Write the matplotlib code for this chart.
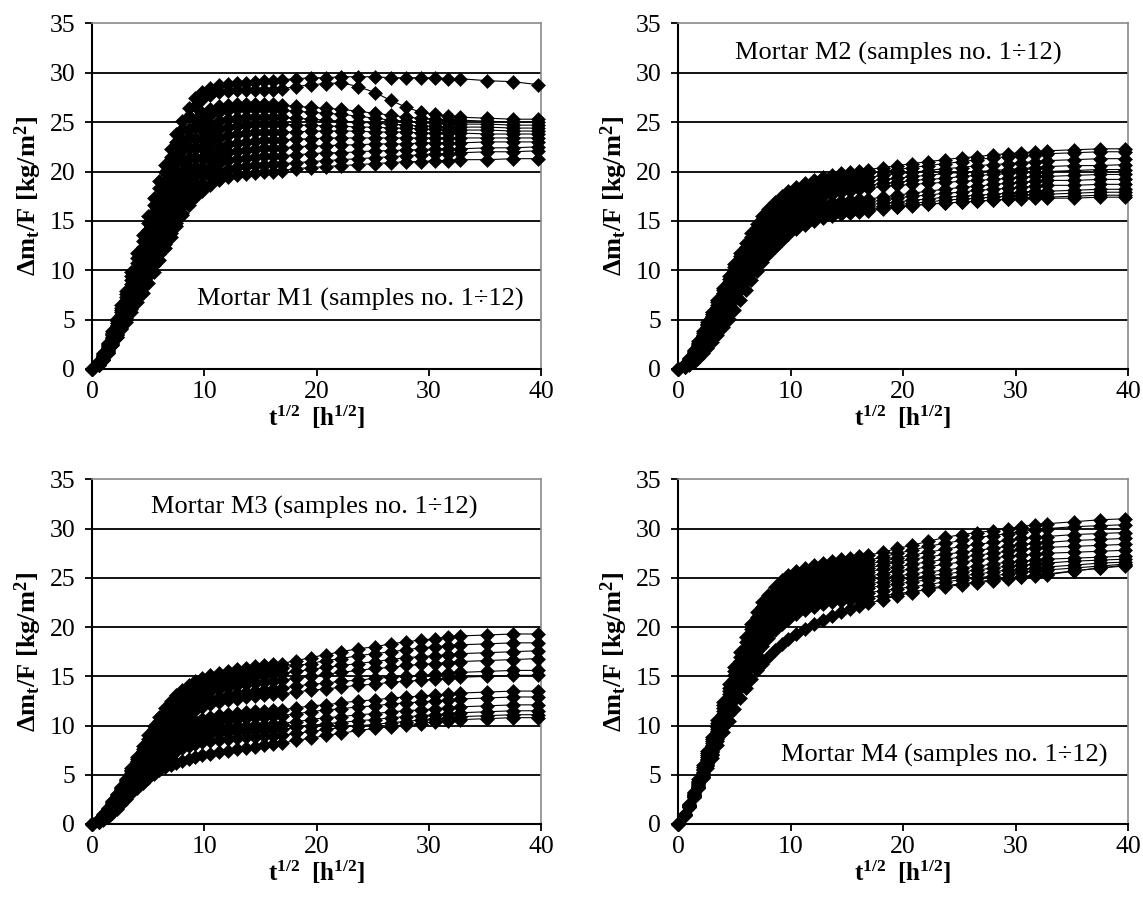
import numpy as np
import matplotlib
matplotlib.use("Agg")
import matplotlib.pyplot as plt

plt.rcParams['font.family'] = ['Liberation Serif', 'DejaVu Serif']
plt.rcParams['mathtext.fontset'] = 'custom'
plt.rcParams['mathtext.rm'] = 'Liberation Serif'
plt.rcParams['mathtext.bf'] = 'Liberation Serif:bold'
plt.rcParams['mathtext.it'] = 'Liberation Serif:italic'

# square root of time [h^1/2] at which samples were weighed
sqrt_t = [0, 0.6, 1.0, 1.4, 1.8, 2.2, 2.6, 3.0, 3.5, 4.0, 4.5, 5.0, 5.5, 6.0, 6.5, 7.0, 7.5, 8.0, 8.6, 9.2,
          9.8, 10.5, 11.3, 12.1, 12.9, 13.7, 14.5, 15.3, 16.1, 16.9, 18.2, 19.5, 20.8, 22.2, 23.7, 25.2, 26.6,
          28.0, 29.3, 30.5, 31.7, 32.8, 35.2, 37.5, 39.7]

# water absorption dm_t/F [kg/m2], mortar M1, samples 1..12
m1_series = [
    [0, 0.8, 1.6, 2.6, 3.8, 5.1, 6.5, 7.9, 9.8, 11.7, 13.6, 15.5, 17.3, 19.0, 20.7, 22.3, 23.8, 25.1, 26.4, 27.4, 28.1, 28.5, 28.8, 28.9, 29.0, 29.0, 29.1, 29.2, 29.2, 29.3, 29.4, 29.5, 29.5, 29.6, 29.6, 29.6, 29.5, 29.5, 29.5, 29.5, 29.4, 29.4, 29.2, 29.1, 28.8],
    [0, 0.7, 1.5, 2.5, 3.6, 4.9, 6.2, 7.6, 9.4, 11.2, 13.0, 14.8, 16.6, 18.3, 19.9, 21.5, 23.0, 24.3, 25.6, 26.6, 27.3, 27.8, 28.1, 28.2, 28.3, 28.3, 28.3, 28.3, 28.3, 28.4, 28.6, 28.8, 28.9, 29.0, 28.6, 28.0, 27.2, 26.5, 26.0, 25.8, 25.6, 25.5, 25.4, 25.3, 25.3],
    [0, 0.7, 1.4, 2.4, 3.5, 4.7, 6.0, 7.3, 9.0, 10.7, 12.4, 14.1, 15.8, 17.4, 19.0, 20.5, 21.9, 23.1, 24.3, 25.2, 25.9, 26.3, 26.6, 26.7, 26.8, 26.8, 26.8, 26.8, 26.8, 26.7, 26.6, 26.5, 26.4, 26.3, 26.1, 25.9, 25.7, 25.5, 25.4, 25.3, 25.2, 25.2, 25.1, 25.0, 25.0],
    [0, 0.6, 1.3, 2.3, 3.4, 4.5, 5.8, 7.0, 8.6, 10.2, 11.8, 13.4, 15.0, 16.6, 18.1, 19.6, 21.0, 22.2, 23.5, 24.5, 25.2, 25.7, 26.0, 26.2, 26.3, 26.3, 26.3, 26.3, 26.3, 26.2, 26.1, 26.0, 25.9, 25.8, 25.6, 25.4, 25.2, 25.1, 25.0, 24.9, 24.9, 24.8, 24.8, 24.7, 24.7],
    [0, 0.6, 1.3, 2.2, 3.2, 4.3, 5.5, 6.7, 8.2, 9.7, 11.2, 12.7, 14.2, 15.7, 17.2, 18.6, 19.9, 21.1, 22.4, 23.4, 24.2, 24.8, 25.1, 25.3, 25.4, 25.5, 25.5, 25.5, 25.5, 25.5, 25.4, 25.3, 25.2, 25.1, 25.0, 24.9, 24.8, 24.7, 24.6, 24.6, 24.5, 24.5, 24.5, 24.4, 24.4],
    [0, 0.5, 1.2, 2.1, 3.1, 4.1, 5.2, 6.4, 7.8, 9.2, 10.6, 12.0, 13.4, 14.8, 16.2, 17.6, 18.9, 20.1, 21.4, 22.5, 23.3, 23.9, 24.3, 24.5, 24.6, 24.7, 24.8, 24.8, 24.8, 24.8, 24.7, 24.7, 24.6, 24.6, 24.5, 24.5, 24.4, 24.4, 24.3, 24.3, 24.2, 24.2, 24.2, 24.1, 24.1],
    [0, 0.5, 1.1, 2.0, 2.9, 3.9, 5.0, 6.1, 7.4, 8.8, 10.1, 11.4, 12.8, 14.1, 15.4, 16.7, 18.0, 19.2, 20.4, 21.5, 22.4, 23.0, 23.4, 23.7, 23.8, 23.9, 24.0, 24.0, 24.0, 24.0, 24.0, 24.1, 24.1, 24.1, 24.1, 24.0, 24.0, 24.0, 23.9, 23.9, 23.9, 23.9, 23.8, 23.8, 23.8],
    [0, 0.5, 1.1, 1.9, 2.8, 3.7, 4.7, 5.8, 7.1, 8.4, 9.6, 10.9, 12.2, 13.4, 14.7, 15.9, 17.1, 18.3, 19.5, 20.5, 21.4, 22.0, 22.5, 22.8, 22.9, 23.0, 23.1, 23.2, 23.2, 23.2, 23.3, 23.3, 23.4, 23.4, 23.4, 23.4, 23.4, 23.4, 23.4, 23.4, 23.4, 23.4, 23.4, 23.4, 23.4],
    [0, 0.4, 1.0, 1.8, 2.6, 3.5, 4.5, 5.5, 6.7, 7.9, 9.1, 10.3, 11.6, 12.8, 14.0, 15.2, 16.3, 17.4, 18.6, 19.6, 20.5, 21.2, 21.7, 22.0, 22.1, 22.2, 22.3, 22.4, 22.4, 22.4, 22.5, 22.6, 22.6, 22.7, 22.7, 22.8, 22.8, 22.8, 22.9, 22.9, 22.9, 22.9, 23.0, 23.0, 23.0],
    [0, 0.4, 0.9, 1.7, 2.5, 3.4, 4.3, 5.2, 6.4, 7.5, 8.7, 9.8, 11.0, 12.1, 13.3, 14.4, 15.5, 16.6, 17.8, 18.8, 19.7, 20.4, 20.9, 21.2, 21.3, 21.4, 21.5, 21.6, 21.6, 21.6, 21.7, 21.8, 21.9, 21.9, 22.0, 22.1, 22.1, 22.2, 22.2, 22.3, 22.3, 22.3, 22.4, 22.4, 22.5],
    [0, 0.4, 0.9, 1.6, 2.4, 3.2, 4.1, 5.0, 6.1, 7.2, 8.3, 9.4, 10.5, 11.6, 12.7, 13.8, 14.8, 15.8, 16.9, 17.9, 18.8, 19.5, 20.0, 20.3, 20.5, 20.6, 20.7, 20.7, 20.8, 20.8, 20.9, 21.0, 21.1, 21.2, 21.3, 21.4, 21.5, 21.6, 21.7, 21.8, 21.8, 21.9, 22.0, 22.0, 22.1],
    [0, 0.4, 0.9, 1.6, 2.4, 3.2, 4.0, 4.8, 5.8, 6.8, 7.7, 8.7, 9.8, 11.0, 12.2, 13.4, 14.5, 15.6, 16.6, 17.4, 18.0, 18.6, 19.1, 19.4, 19.6, 19.7, 19.8, 19.9, 20.0, 20.1, 20.3, 20.4, 20.5, 20.6, 20.7, 20.8, 20.9, 21.0, 21.0, 21.1, 21.1, 21.2, 21.2, 21.3, 21.3],
]

# mortar M2
m2_series = [
    [0, 0.5, 1.1, 1.9, 2.8, 3.8, 4.8, 5.8, 7.0, 8.2, 9.4, 10.6, 11.7, 12.8, 13.8, 14.7, 15.5, 16.2, 16.9, 17.5, 18.0, 18.4, 18.8, 19.1, 19.4, 19.6, 19.8, 19.9, 20.1, 20.2, 20.4, 20.6, 20.8, 21.0, 21.2, 21.4, 21.5, 21.7, 21.8, 21.9, 22.0, 22.1, 22.2, 22.3, 22.3],
    [0, 0.5, 1.0, 1.8, 2.6, 3.6, 4.6, 5.6, 6.8, 8.0, 9.1, 10.3, 11.4, 12.4, 13.4, 14.3, 15.1, 15.8, 16.5, 17.1, 17.6, 18.0, 18.4, 18.7, 19.0, 19.2, 19.4, 19.5, 19.7, 19.8, 20.0, 20.2, 20.4, 20.6, 20.8, 21.0, 21.2, 21.4, 21.5, 21.6, 21.7, 21.8, 21.9, 22.0, 22.0],
    [0, 0.4, 1.0, 1.7, 2.5, 3.4, 4.4, 5.4, 6.5, 7.7, 8.8, 9.9, 11.0, 12.0, 13.0, 13.9, 14.7, 15.4, 16.1, 16.7, 17.2, 17.6, 18.0, 18.3, 18.6, 18.8, 19.0, 19.1, 19.3, 19.4, 19.6, 19.8, 19.9, 20.1, 20.3, 20.4, 20.6, 20.7, 20.8, 20.9, 21.0, 21.1, 21.2, 21.3, 21.3],
    [0, 0.4, 0.9, 1.6, 2.4, 3.3, 4.2, 5.2, 6.3, 7.4, 8.5, 9.6, 10.6, 11.6, 12.6, 13.5, 14.3, 15.0, 15.7, 16.3, 16.8, 17.2, 17.6, 17.9, 18.2, 18.4, 18.6, 18.7, 18.9, 19.0, 19.2, 19.3, 19.5, 19.6, 19.8, 19.9, 20.0, 20.1, 20.2, 20.3, 20.4, 20.5, 20.6, 20.6, 20.7],
    [0, 0.4, 0.9, 1.5, 2.3, 3.1, 4.0, 5.0, 6.0, 7.1, 8.2, 9.2, 10.2, 11.2, 12.2, 13.1, 13.9, 14.6, 15.3, 15.9, 16.4, 16.8, 17.2, 17.5, 17.8, 18.0, 18.2, 18.3, 18.5, 18.6, 18.8, 18.9, 19.1, 19.2, 19.3, 19.5, 19.6, 19.7, 19.8, 19.9, 19.9, 20.0, 20.1, 20.2, 20.2],
    [0, 0.3, 0.8, 1.4, 2.2, 3.0, 3.9, 4.8, 5.8, 6.9, 7.9, 8.9, 9.9, 10.9, 11.8, 12.7, 13.5, 14.2, 14.9, 15.5, 16.0, 16.5, 16.9, 17.2, 17.5, 17.7, 17.9, 18.0, 18.2, 18.3, 18.5, 18.6, 18.7, 18.8, 18.9, 19.0, 19.1, 19.2, 19.3, 19.4, 19.5, 19.5, 19.6, 19.7, 19.7],
    [0, 0.3, 0.7, 1.3, 2.0, 2.8, 3.6, 4.5, 5.5, 6.5, 7.5, 8.5, 9.5, 10.4, 11.3, 12.1, 12.9, 13.6, 14.3, 14.9, 15.4, 15.8, 16.2, 16.5, 16.7, 16.9, 17.0, 17.1, 17.2, 17.2, 17.4, 17.6, 17.8, 18.0, 18.2, 18.4, 18.5, 18.7, 18.8, 18.9, 19.0, 19.1, 19.1, 19.2, 19.2],
    [0, 0.3, 0.7, 1.2, 1.9, 2.6, 3.4, 4.3, 5.2, 6.2, 7.2, 8.2, 9.1, 10.0, 10.9, 11.7, 12.5, 13.2, 13.9, 14.5, 15.0, 15.4, 15.8, 16.1, 16.3, 16.5, 16.6, 16.7, 16.8, 16.9, 17.1, 17.3, 17.5, 17.6, 17.8, 17.9, 18.1, 18.2, 18.3, 18.4, 18.5, 18.6, 18.6, 18.7, 18.7],
    [0, 0.3, 0.6, 1.1, 1.7, 2.4, 3.2, 4.0, 4.9, 5.9, 6.8, 7.8, 8.7, 9.6, 10.5, 11.3, 12.1, 12.8, 13.5, 14.1, 14.6, 15.0, 15.4, 15.7, 15.9, 16.1, 16.3, 16.4, 16.5, 16.6, 16.8, 16.9, 17.1, 17.2, 17.4, 17.5, 17.6, 17.7, 17.8, 17.9, 18.0, 18.0, 18.1, 18.2, 18.2],
    [0, 0.2, 0.6, 1.0, 1.6, 2.3, 3.0, 3.7, 4.6, 5.5, 6.5, 7.4, 8.3, 9.2, 10.1, 10.9, 11.7, 12.4, 13.1, 13.7, 14.2, 14.6, 15.0, 15.3, 15.6, 15.8, 16.0, 16.1, 16.2, 16.3, 16.5, 16.6, 16.8, 16.9, 17.1, 17.2, 17.3, 17.4, 17.5, 17.6, 17.7, 17.7, 17.8, 17.9, 17.9],
    [0, 0.2, 0.5, 0.9, 1.5, 2.1, 2.8, 3.5, 4.3, 5.2, 6.1, 7.1, 8.0, 8.9, 9.8, 10.6, 11.4, 12.1, 12.8, 13.4, 13.9, 14.4, 14.8, 15.1, 15.4, 15.6, 15.8, 15.9, 16.0, 16.1, 16.3, 16.4, 16.6, 16.7, 16.8, 16.9, 17.0, 17.1, 17.2, 17.3, 17.4, 17.4, 17.5, 17.6, 17.6],
    [0, 0.2, 0.4, 0.7, 1.1, 1.6, 2.1, 2.7, 3.4, 4.2, 5.1, 6.0, 7.0, 8.0, 9.0, 9.9, 10.8, 11.6, 12.4, 13.1, 13.7, 14.2, 14.6, 15.0, 15.3, 15.5, 15.7, 15.8, 15.9, 16.0, 16.2, 16.4, 16.5, 16.7, 16.8, 16.9, 17.0, 17.1, 17.2, 17.2, 17.3, 17.3, 17.3, 17.4, 17.4],
]

# mortar M3
m3_series = [
    [0, 0.5, 1.0, 1.6, 2.3, 3.0, 3.8, 4.6, 5.7, 6.8, 7.9, 9.0, 10.0, 10.9, 11.8, 12.5, 13.1, 13.6, 14.1, 14.5, 14.8, 15.1, 15.3, 15.5, 15.7, 15.8, 16.0, 16.1, 16.2, 16.3, 16.6, 16.9, 17.2, 17.5, 17.8, 18.0, 18.3, 18.5, 18.7, 18.8, 19.0, 19.1, 19.2, 19.3, 19.3],
    [0, 0.4, 0.9, 1.5, 2.2, 2.9, 3.7, 4.5, 5.5, 6.6, 7.6, 8.6, 9.6, 10.5, 11.3, 12.0, 12.6, 13.1, 13.6, 14.0, 14.3, 14.6, 14.8, 15.0, 15.2, 15.3, 15.5, 15.6, 15.7, 15.8, 16.1, 16.3, 16.6, 16.8, 17.1, 17.3, 17.5, 17.7, 17.9, 18.0, 18.1, 18.2, 18.3, 18.4, 18.4],
    [0, 0.4, 0.9, 1.4, 2.1, 2.8, 3.6, 4.4, 5.4, 6.4, 7.4, 8.3, 9.2, 10.1, 10.9, 11.6, 12.2, 12.7, 13.1, 13.5, 13.8, 14.1, 14.3, 14.5, 14.7, 14.8, 15.0, 15.1, 15.2, 15.3, 15.5, 15.7, 15.9, 16.1, 16.3, 16.5, 16.7, 16.9, 17.0, 17.1, 17.2, 17.3, 17.4, 17.5, 17.6],
    [0, 0.4, 0.8, 1.4, 2.0, 2.7, 3.5, 4.2, 5.2, 6.2, 7.1, 8.0, 8.9, 9.7, 10.4, 11.1, 11.6, 12.1, 12.5, 12.9, 13.2, 13.5, 13.7, 13.9, 14.1, 14.2, 14.3, 14.4, 14.5, 14.6, 14.8, 15.0, 15.2, 15.4, 15.6, 15.8, 15.9, 16.1, 16.2, 16.3, 16.4, 16.5, 16.6, 16.7, 16.8],
    [0, 0.3, 0.8, 1.3, 1.9, 2.6, 3.3, 4.0, 4.9, 5.8, 6.7, 7.6, 8.4, 9.2, 9.9, 10.5, 11.0, 11.4, 11.8, 12.2, 12.5, 12.7, 12.9, 13.1, 13.3, 13.4, 13.5, 13.6, 13.7, 13.8, 14.0, 14.2, 14.3, 14.5, 14.6, 14.8, 14.9, 15.0, 15.1, 15.2, 15.3, 15.4, 15.5, 15.6, 15.6],
    [0, 0.3, 0.7, 1.2, 1.8, 2.5, 3.2, 3.9, 4.7, 5.6, 6.4, 7.2, 8.0, 8.7, 9.4, 10.0, 10.5, 10.9, 11.3, 11.6, 11.9, 12.2, 12.4, 12.6, 12.7, 12.9, 13.0, 13.1, 13.2, 13.2, 13.4, 13.6, 13.7, 13.9, 14.1, 14.2, 14.4, 14.5, 14.6, 14.7, 14.8, 14.9, 15.0, 15.1, 15.1],
    [0, 0.3, 0.7, 1.1, 1.7, 2.3, 2.9, 3.6, 4.4, 5.2, 6.0, 6.7, 7.4, 8.0, 8.6, 9.1, 9.5, 9.9, 10.2, 10.5, 10.7, 10.9, 11.1, 11.2, 11.3, 11.4, 11.5, 11.5, 11.6, 11.6, 11.8, 12.0, 12.1, 12.3, 12.5, 12.6, 12.8, 12.9, 13.0, 13.1, 13.2, 13.3, 13.4, 13.5, 13.5],
    [0, 0.3, 0.6, 1.1, 1.6, 2.2, 2.8, 3.4, 4.2, 4.9, 5.7, 6.4, 7.0, 7.6, 8.1, 8.6, 9.0, 9.4, 9.7, 10.0, 10.2, 10.4, 10.5, 10.6, 10.7, 10.8, 10.9, 10.9, 11.0, 11.0, 11.2, 11.4, 11.6, 11.7, 11.9, 12.0, 12.2, 12.3, 12.4, 12.5, 12.6, 12.7, 12.8, 12.9, 12.9],
    [0, 0.2, 0.6, 1.0, 1.5, 2.0, 2.6, 3.2, 3.9, 4.6, 5.3, 5.9, 6.5, 7.1, 7.6, 8.1, 8.5, 8.8, 9.1, 9.3, 9.5, 9.7, 9.8, 9.9, 10.0, 10.0, 10.1, 10.1, 10.2, 10.2, 10.4, 10.6, 10.8, 10.9, 11.1, 11.2, 11.4, 11.5, 11.6, 11.7, 11.8, 11.9, 12.0, 12.1, 12.1],
    [0, 0.2, 0.5, 0.9, 1.4, 1.9, 2.5, 3.0, 3.7, 4.4, 5.0, 5.6, 6.2, 6.7, 7.2, 7.6, 8.0, 8.3, 8.6, 8.8, 9.0, 9.1, 9.2, 9.3, 9.4, 9.4, 9.5, 9.5, 9.6, 9.6, 9.8, 10.0, 10.2, 10.3, 10.5, 10.6, 10.8, 10.9, 11.0, 11.1, 11.2, 11.3, 11.4, 11.5, 11.5],
    [0, 0.2, 0.5, 0.8, 1.3, 1.8, 2.3, 2.8, 3.5, 4.1, 4.7, 5.3, 5.8, 6.3, 6.7, 7.1, 7.4, 7.7, 7.9, 8.1, 8.3, 8.4, 8.5, 8.6, 8.7, 8.8, 8.8, 8.9, 8.9, 9.0, 9.2, 9.4, 9.6, 9.8, 10.0, 10.1, 10.3, 10.4, 10.6, 10.7, 10.8, 10.9, 11.0, 11.1, 11.1],
    [0, 0.2, 0.4, 0.7, 1.1, 1.5, 2.0, 2.5, 3.1, 3.7, 4.2, 4.7, 5.1, 5.5, 5.8, 6.0, 6.2, 6.4, 6.6, 6.8, 7.0, 7.1, 7.3, 7.4, 7.6, 7.7, 7.8, 8.0, 8.1, 8.2, 8.5, 8.7, 9.0, 9.2, 9.5, 9.7, 9.9, 10.1, 10.2, 10.4, 10.5, 10.6, 10.7, 10.8, 10.8],
]

# mortar M4
m4_series = [
    [0, 1.0, 2.0, 3.2, 4.6, 6.0, 7.4, 8.8, 10.6, 12.4, 14.2, 15.9, 17.5, 19.0, 20.3, 21.5, 22.5, 23.3, 24.1, 24.8, 25.3, 25.7, 26.0, 26.3, 26.5, 26.7, 26.9, 27.0, 27.2, 27.3, 27.6, 28.0, 28.3, 28.7, 29.1, 29.4, 29.6, 29.8, 30.0, 30.2, 30.4, 30.5, 30.7, 30.9, 31.0],
    [0, 1.0, 1.9, 3.1, 4.4, 5.8, 7.2, 8.6, 10.3, 12.1, 13.8, 15.5, 17.0, 18.5, 19.8, 21.0, 22.0, 22.8, 23.6, 24.3, 24.8, 25.2, 25.5, 25.8, 26.0, 26.2, 26.4, 26.5, 26.7, 26.8, 27.1, 27.5, 27.8, 28.2, 28.5, 28.8, 29.1, 29.3, 29.5, 29.7, 29.9, 30.0, 30.2, 30.3, 30.4],
    [0, 0.9, 1.9, 3.0, 4.3, 5.6, 7.0, 8.4, 10.1, 11.8, 13.5, 15.1, 16.6, 18.0, 19.3, 20.5, 21.5, 22.3, 23.1, 23.8, 24.3, 24.7, 25.0, 25.3, 25.6, 25.8, 26.0, 26.1, 26.3, 26.4, 26.7, 27.0, 27.3, 27.6, 27.9, 28.2, 28.4, 28.6, 28.8, 29.0, 29.1, 29.2, 29.4, 29.5, 29.6],
    [0, 0.9, 1.8, 2.9, 4.2, 5.5, 6.8, 8.2, 9.9, 11.5, 13.2, 14.7, 16.2, 17.6, 18.9, 20.0, 21.0, 21.8, 22.6, 23.3, 23.8, 24.2, 24.6, 24.9, 25.2, 25.4, 25.6, 25.7, 25.9, 26.0, 26.3, 26.6, 26.9, 27.1, 27.4, 27.6, 27.8, 28.0, 28.2, 28.4, 28.5, 28.6, 28.8, 28.9, 29.0],
    [0, 0.9, 1.8, 2.9, 4.1, 5.3, 6.6, 8.0, 9.6, 11.2, 12.8, 14.3, 15.8, 17.1, 18.4, 19.5, 20.5, 21.3, 22.1, 22.8, 23.3, 23.8, 24.2, 24.5, 24.8, 25.0, 25.2, 25.3, 25.5, 25.6, 25.9, 26.1, 26.4, 26.6, 26.9, 27.1, 27.3, 27.5, 27.7, 27.9, 28.0, 28.1, 28.2, 28.3, 28.4],
    [0, 0.9, 1.8, 2.8, 4.0, 5.2, 6.5, 7.8, 9.4, 11.0, 12.5, 14.0, 15.4, 16.7, 18.0, 19.1, 20.1, 20.9, 21.7, 22.4, 22.9, 23.4, 23.8, 24.1, 24.4, 24.6, 24.8, 24.9, 25.1, 25.2, 25.4, 25.7, 25.9, 26.1, 26.4, 26.6, 26.8, 27.0, 27.2, 27.3, 27.4, 27.5, 27.6, 27.7, 27.8],
    [0, 0.9, 1.7, 2.8, 3.9, 5.1, 6.3, 7.6, 9.2, 10.7, 12.2, 13.7, 15.1, 16.4, 17.6, 18.7, 19.7, 20.5, 21.3, 22.0, 22.5, 23.0, 23.4, 23.7, 24.0, 24.2, 24.4, 24.5, 24.7, 24.8, 25.0, 25.2, 25.4, 25.6, 25.8, 26.0, 26.2, 26.4, 26.6, 26.7, 26.8, 26.9, 27.0, 27.1, 27.2],
    [0, 0.9, 1.7, 2.7, 3.8, 5.0, 6.2, 7.4, 9.0, 10.5, 12.0, 13.4, 14.8, 16.1, 17.3, 18.4, 19.3, 20.1, 20.9, 21.6, 22.1, 22.6, 23.0, 23.3, 23.6, 23.8, 24.0, 24.1, 24.3, 24.4, 24.6, 24.8, 25.0, 25.2, 25.4, 25.6, 25.8, 26.0, 26.2, 26.3, 26.4, 26.5, 26.7, 26.8, 26.9],
    [0, 0.9, 1.7, 2.7, 3.8, 4.9, 6.1, 7.3, 8.8, 10.3, 11.7, 13.1, 14.5, 15.8, 17.0, 18.0, 18.9, 19.7, 20.5, 21.2, 21.7, 22.2, 22.6, 22.9, 23.2, 23.4, 23.6, 23.7, 23.9, 24.0, 24.2, 24.4, 24.6, 24.8, 25.0, 25.2, 25.4, 25.6, 25.8, 25.9, 26.0, 26.1, 26.3, 26.5, 26.6],
    [0, 0.9, 1.7, 2.7, 3.7, 4.8, 6.0, 7.1, 8.6, 10.1, 11.5, 12.9, 14.2, 15.5, 16.6, 17.6, 18.5, 19.3, 20.1, 20.8, 21.3, 21.8, 22.2, 22.5, 22.8, 23.0, 23.2, 23.3, 23.4, 23.5, 23.7, 23.9, 24.1, 24.3, 24.6, 24.8, 25.0, 25.2, 25.4, 25.6, 25.7, 25.8, 26.0, 26.2, 26.4],
    [0, 0.9, 1.7, 2.7, 3.7, 4.8, 5.9, 7.0, 8.4, 9.8, 11.2, 12.6, 13.9, 15.1, 16.2, 17.2, 18.1, 18.9, 19.7, 20.3, 20.8, 21.3, 21.7, 22.0, 22.3, 22.5, 22.7, 22.8, 22.9, 23.0, 23.2, 23.4, 23.6, 23.8, 24.1, 24.3, 24.5, 24.7, 24.9, 25.1, 25.3, 25.4, 25.7, 26.0, 26.2],
    [0, 0.9, 1.7, 2.7, 3.7, 4.7, 5.7, 6.7, 8.0, 9.3, 10.5, 11.7, 12.8, 13.8, 14.7, 15.6, 16.3, 17.0, 17.7, 18.3, 18.8, 19.3, 19.8, 20.3, 20.7, 21.1, 21.5, 21.8, 22.1, 22.4, 22.8, 23.2, 23.5, 23.9, 24.2, 24.4, 24.6, 24.8, 25.0, 25.1, 25.2, 25.3, 25.7, 26.0, 26.3],
]

panel_labels = ["Mortar M1 (samples no. 1÷12)", "Mortar M2 (samples no. 1÷12)",
                "Mortar M3 (samples no. 1÷12)", "Mortar M4 (samples no. 1÷12)"]
label_xy = [(23.9, 7.0), (19.6, 32.0), (19.8, 32.2), (23.7, 7.0)]

fig = plt.figure(figsize=(11.43, 9.02), dpi=100)
rects = [[0.0805, 0.591, 0.393, 0.383], [0.5932, 0.591, 0.3937, 0.383],
         [0.0805, 0.0865, 0.393, 0.382], [0.5932, 0.0865, 0.3937, 0.382]]

for rect, data, lab, xy in zip(rects, [m1_series, m2_series, m3_series, m4_series], panel_labels, label_xy):
    ax = fig.add_axes(rect)
    for s in data:
        ax.plot(sqrt_t, s, color='black', lw=0.8, marker='D', ms=6.8,
                mfc='black', mec='black', mew=0.4, clip_on=False, zorder=3)
    ax.set_xlim(0, 40)
    ax.set_ylim(0, 35)
    ax.set_xticks(np.arange(0, 41, 10))
    ax.set_yticks(np.arange(0, 36, 5))
    ax.yaxis.grid(True, color='black', lw=1.3)
    ax.get_ygridlines()[-1].set_visible(False)
    ax.get_ygridlines()[0].set_visible(False)
    ax.set_axisbelow(True)
    for side in ['top', 'right']:
        ax.spines[side].set_color('#8a8a8a')
        ax.spines[side].set_linewidth(1.2)
    for side in ['left', 'bottom']:
        ax.spines[side].set_color('black')
        ax.spines[side].set_linewidth(1.5)
    ax.tick_params(direction='out', length=5, width=1.3, labelsize=18.5,
                   top=False, right=False)
    ax.tick_params(axis='x', pad=4)
    ax.tick_params(axis='y', pad=7)
    ax.set_xlabel(r'$\mathbf{t^{1/2}\ \ [h^{1/2}]}$', fontsize=18, labelpad=0)
    ax.set_ylabel(r'$\mathbf{\Delta m_t/F\ [kg/m^2]}$', fontsize=19, labelpad=4)
    ax.text(xy[0], xy[1], lab, ha='center', va='center', fontsize=19)

fig.savefig('out.png', dpi=100)
